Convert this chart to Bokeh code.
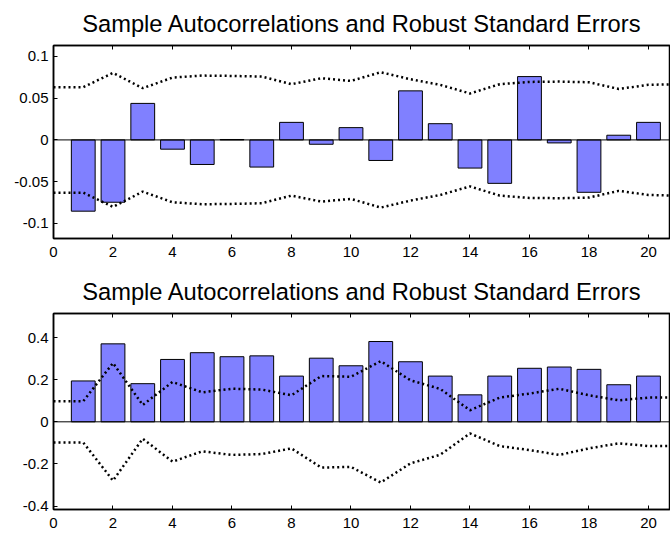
from bokeh.plotting import figure
from bokeh.layouts import column
from bokeh.models import LinearAxis, FixedTicker, Range1d, ColumnDataSource, Span
from bokeh.embed import file_html
from bokeh.resources import INLINE

title_text = "Sample Autocorrelations and Robust Standard Errors"

lags = list(range(1, 21))
band_lags = list(range(0, 22))

acf_top = [-0.0853, -0.0746, 0.0437, -0.0111, -0.0294, 0.0005, -0.0325, 0.0210, -0.0052, 0.0147,
           -0.0246, 0.0587, 0.0194, -0.0337, -0.0520, 0.0758, -0.0036, -0.0627, 0.0056, 0.0210]
se_top = [0.0631, 0.0631, 0.0802, 0.0619, 0.0746, 0.0770, 0.0766, 0.0758, 0.0667, 0.0738, 0.0706,
          0.0810, 0.0726, 0.0659, 0.0556, 0.0667, 0.0694, 0.0698, 0.0690, 0.0610, 0.0659, 0.0667]

acf_bot = [0.194, 0.370, 0.181, 0.296, 0.328, 0.309, 0.313, 0.217, 0.302, 0.266,
           0.381, 0.285, 0.217, 0.128, 0.217, 0.254, 0.260, 0.249, 0.176, 0.217]
se_bot = [0.098, 0.098, 0.279, 0.080, 0.189, 0.140, 0.157, 0.153, 0.126, 0.217, 0.214,
          0.288, 0.197, 0.156, 0.055, 0.115, 0.134, 0.157, 0.126, 0.102, 0.115, 0.115]

x_ticks = [0, 2, 4, 6, 8, 10, 12, 14, 16, 18, 20]
y_ticks_top = [-0.1, -0.05, 0, 0.05, 0.1]
y_labels_top = ["-0.1", "-0.05", "0", "0.05", "0.1"]
y_ticks_bot = [-0.4, -0.2, 0, 0.2, 0.4]
y_labels_bot = ["-0.4", "-0.2", "0", "0.2", "0.4"]

FONT = "Liberation Sans"
BAR_COLOR = "#8080ff"


def make_panel(acf, se, yr, yticks, ylabels, height, mtop, mbottom):
    p = figure(width=670, height=height, output_backend="svg", toolbar_location=None,
               x_range=Range1d(0, 20.74), y_range=Range1d(*yr),
               min_border_left=53, min_border_right=0, min_border_top=mtop,
               min_border_bottom=mbottom, outline_line_color="black", outline_line_width=1.5)
    p.title.text = title_text
    p.title.align = "center"
    p.title.text_font = FONT
    p.title.text_font_size = "23.7px"
    p.title.text_font_style = "normal"
    p.title.text_color = "black"
    p.title.standoff = 17
    p.xgrid.visible = False
    p.ygrid.visible = False

    src = ColumnDataSource(dict(x=lags, y=acf))
    p.vbar(x="x", top="y", bottom=0, width=0.8, source=src,
           fill_color=BAR_COLOR, line_color="black", line_width=1)
    p.add_layout(Span(location=0, dimension="width", line_color="black", line_width=1))

    up = ColumnDataSource(dict(x=band_lags, y=se, yn=[-v for v in se]))
    p.line(x="x", y="y", source=up, line_color="black", line_width=2.5, line_dash="2 3")
    p.line(x="x", y="yn", source=up, line_color="black", line_width=2.5, line_dash="2 3")

    for ax in (p.xaxis[0], p.yaxis[0]):
        ax.major_tick_in = 4
        ax.major_tick_out = 0
        ax.minor_tick_in = 0
        ax.minor_tick_out = 0
        ax.axis_line_width = 1.5
        ax.major_tick_line_width = 1
        ax.major_label_text_font = FONT
        ax.major_label_text_font_size = "15px"
        ax.major_label_text_color = "black"
        ax.axis_line_color = "black"
        ax.major_tick_line_color = "black"
    p.xaxis[0].ticker = FixedTicker(ticks=x_ticks)
    p.xaxis[0].major_label_standoff = 8
    p.yaxis[0].ticker = FixedTicker(ticks=yticks)
    p.yaxis[0].major_label_overrides = {t: l for t, l in zip(yticks, ylabels)}
    p.yaxis[0].major_label_standoff = 5

    top_ax = LinearAxis(ticker=FixedTicker(ticks=x_ticks), major_label_text_font_size="0px",
                        major_tick_in=4, major_tick_out=0, minor_tick_in=0, minor_tick_out=0,
                        axis_line_width=1.5, axis_line_color="black", major_label_standoff=0)
    top_ax.major_label_overrides = {t: "" for t in x_ticks}
    p.add_layout(top_ax, "above")
    return p


p1 = make_panel(acf_top, se_top, (-0.118, 0.113), y_ticks_top, y_labels_top, 263, 44, 25)
p2 = make_panel(acf_bot, se_bot, (-0.416, 0.514), y_ticks_bot, y_labels_bot, 270, 50, 24)

layout = column(p1, p2, spacing=0)
open("out.html", "w").write(file_html(layout, INLINE))
